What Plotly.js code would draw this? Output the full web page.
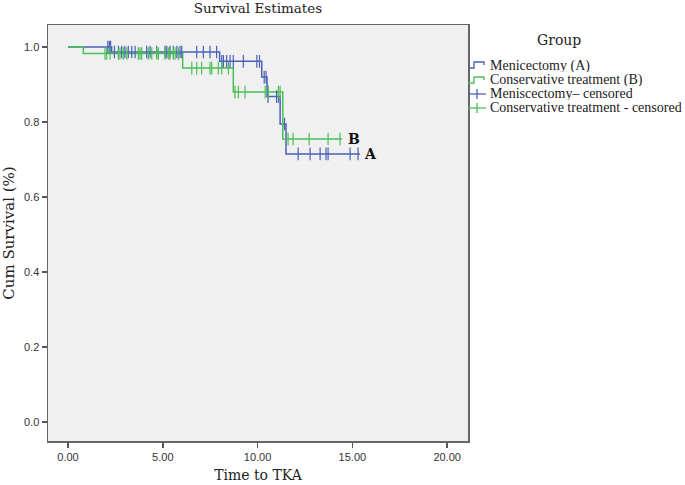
<!DOCTYPE html>
<html>
<head>
<meta charset="utf-8">
<script src="https://cdn.plot.ly/plotly-3.0.1.min.js"></script>
<style>html,body{margin:0;padding:0;background:#fff;}#chart{width:685px;height:485px;}</style>
</head>
<body>
<div id="chart"></div>
<script>
// Menicectomy (A): step curve
var stepA_t = [0, 2.3, 8.0, 10.22, 10.5, 11.19, 11.5, 15.4];
var stepA_s = [1.0, 0.987, 0.962, 0.92, 0.868, 0.795, 0.715, 0.715];
// Conservative treatment (B): step curve
var stepB_t = [0, 0.81, 6.05, 8.72, 11.33, 14.45];
var stepB_s = [1.0, 0.983, 0.944, 0.88, 0.755, 0.755];
// censored times
var censA_t = [2.1, 2.18, 2.25, 2.45, 2.66, 2.83, 3.0, 3.18, 3.36, 3.54, 4.15, 4.33, 4.68, 5.12, 5.21, 5.38, 5.56, 5.74, 5.91, 6.0, 6.79, 7.14, 7.49, 7.84,
               8.11, 8.2, 8.37, 8.55, 8.72, 9.25, 9.96, 10.1, 10.35, 10.45, 10.55, 11.0, 11.1, 11.42,
               12.14, 12.77, 13.3, 13.61, 13.72, 14.88, 15.3];
var censB_t = [1.95, 2.04, 2.22, 2.66, 2.74, 2.92, 3.1, 3.71, 3.8, 3.89, 4.24, 4.42, 4.68, 4.77, 5.12, 5.29, 5.38, 5.56, 5.65, 5.82,
               6.53, 6.79, 7.05, 7.49, 7.58, 7.93, 8.11, 8.46,
               8.81, 8.99, 9.34, 10.4, 10.57, 11.1, 11.19,
               11.61, 11.87, 12.72, 13.72, 14.35];
var xTicks = [0, 5, 10, 15, 20];
var yTicks = [0, 0.2, 0.4, 0.6, 0.8, 1.0];
var names = ['Menicectomy (A)', 'Conservative treatment (B)', 'Meniscectomy\u2013 censored', 'Conservative treatment - censored'];

var blue = '#4c60b6', green = '#48c055';

function levelAt(ts, ss, t) {
  var v = ss[0];
  for (var i = 0; i < ts.length; i++) { if (ts[i] <= t) v = ss[i]; }
  return v;
}
var censA_s = censA_t.map(function (t) { return levelAt(stepA_t, stepA_s, t); });
var censB_s = censB_t.map(function (t) { return levelAt(stepB_t, stepB_s, t); });

var traces = [
  {x: stepA_t, y: stepA_s, mode: 'lines', line: {shape: 'hv', color: blue, width: 1.5}, name: names[0]},
  {x: stepB_t, y: stepB_s, mode: 'lines', line: {shape: 'hv', color: green, width: 1.5}, name: names[1]},
  {x: censA_t, y: censA_s, mode: 'markers', marker: {symbol: 'line-ns-open', size: 9, color: blue, line: {color: blue, width: 1.2}}, name: names[2]},
  {x: censB_t, y: censB_s, mode: 'markers', marker: {symbol: 'line-ns-open', size: 9, color: green, line: {color: green, width: 1.2}}, name: names[3]}
];

var serif = 'DejaVu Serif, Liberation Serif, serif';
var serif2 = 'Liberation Serif, DejaVu Serif, serif';
var sans = 'Liberation Sans, Arial, sans-serif';

// custom legend (icons + text) in pixel-based paper coords
var L = 48, R = 468, T = 25, B = 441;
function px(x) { return (x - L) / (R - L); }
function py(y) { return (B - y) / (B - T); }
var rows = [65, 80, 94, 108];
var cols = [blue, green, blue, green];
var shapes = [];
var annotations = [];
rows.forEach(function (ry, i) {
  if (i < 2) {
    shapes.push({type: 'path', xref: 'paper', yref: 'paper',
      path: 'M' + px(468) + ',' + py(ry + 3) + ' L' + px(474) + ',' + py(ry + 3) + ' L' + px(474) + ',' + py(ry - 3) +
            ' L' + px(484) + ',' + py(ry - 3) + ' L' + px(484) + ',' + py(ry),
      line: {color: cols[i], width: 1.3}});
  } else {
    shapes.push({type: 'line', xref: 'paper', yref: 'paper', x0: px(468), x1: px(486), y0: py(ry), y1: py(ry), line: {color: cols[i], width: 1.3}});
    shapes.push({type: 'line', xref: 'paper', yref: 'paper', x0: px(477), x1: px(477), y0: py(ry - 5), y1: py(ry + 5), line: {color: cols[i], width: 1.3}});
  }
  annotations.push({xref: 'paper', yref: 'paper', x: px(488), y: py(ry), xanchor: 'left', yanchor: 'middle',
    height: 13, valign: 'middle',
    text: names[i], showarrow: false, font: {family: serif2, size: 14, color: '#222'}});
});
annotations.push({xref: 'paper', yref: 'paper', x: px(559), y: py(40), xanchor: 'center', yanchor: 'middle',
  text: 'Group', showarrow: false, font: {family: serif, size: 14, color: '#222'}});
annotations.push({xref: 'x', yref: 'y', x: 15.5, y: 0.715, xanchor: 'left', yanchor: 'middle',
  text: '<b>A</b>', showarrow: false, font: {family: serif, size: 14, color: '#111'}});
annotations.push({xref: 'x', yref: 'y', x: 14.65, y: 0.755, xanchor: 'left', yanchor: 'middle',
  text: '<b>B</b>', showarrow: false, font: {family: serif, size: 14, color: '#111'}});

var layout = {
  width: 685, height: 485,
  margin: {l: L, r: 685 - R, t: T, b: 485 - B, pad: 0},
  paper_bgcolor: '#ffffff',
  plot_bgcolor: '#f0f0f0',
  showlegend: false,
  title: {text: 'Survival Estimates', font: {family: serif, size: 13.5, color: '#222'},
          x: px(258), xref: 'paper', y: 1 - 8 / 485, yref: 'container', yanchor: 'middle', xanchor: 'center'},
  xaxis: {
    range: [-1.055, 21.1], tickvals: xTicks, tickformat: '.2f',
    ticks: 'outside', ticklen: 5, tickwidth: 1.5, tickcolor: '#555',
    showgrid: false, zeroline: false, showline: true, mirror: true, linecolor: '#666', linewidth: 1.5,
    tickfont: {family: sans, size: 11, color: '#333'},
    title: {text: 'Time to TKA', font: {family: serif, size: 14, color: '#222'}, standoff: 8}
  },
  yaxis: {
    range: [-0.051, 1.059], tickvals: yTicks, tickformat: '.1f',
    ticks: 'outside', ticklen: 5, tickwidth: 1.5, tickcolor: '#555',
    showgrid: false, zeroline: false, showline: true, mirror: true, linecolor: '#666', linewidth: 1.5,
    tickfont: {family: sans, size: 11, color: '#333'},
    title: {text: 'Cum Survival (%)', font: {family: serif, size: 15, color: '#222'}, standoff: 6}
  },
  shapes: shapes,
  annotations: annotations
};

Plotly.newPlot('chart', traces, layout, {displayModeBar: false, staticPlot: true});
</script>
</body>
</html>
